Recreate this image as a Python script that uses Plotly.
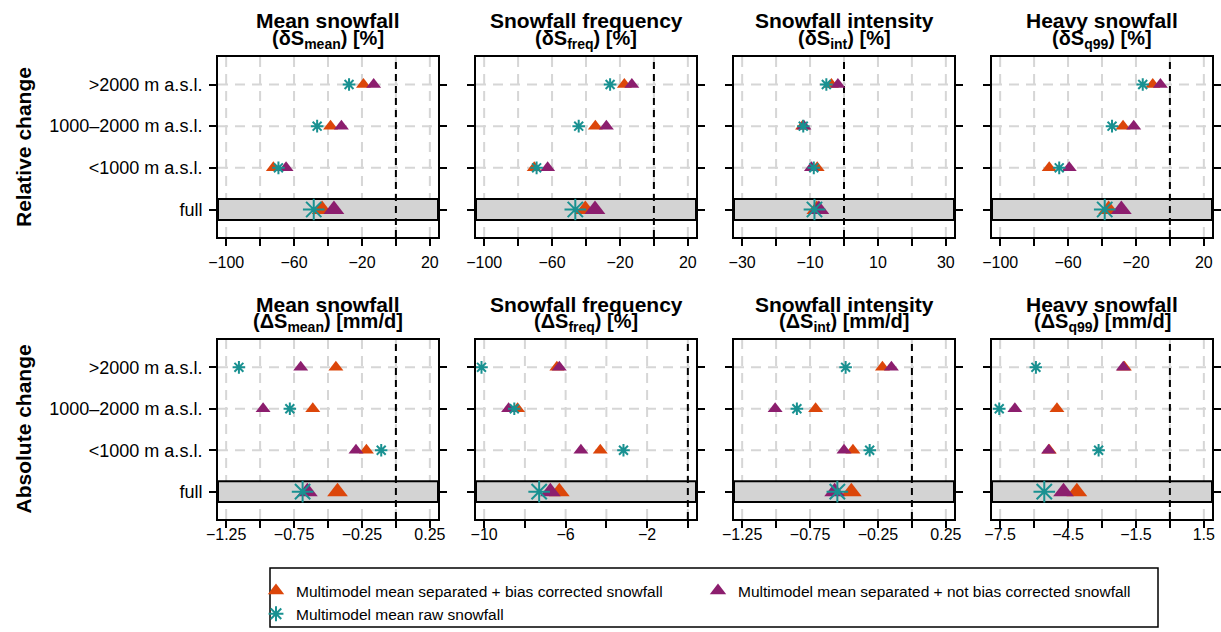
import plotly.graph_objects as go

W, H = 1221, 632

# ---------------- data ----------------
categories = ["full", "<1000 m a.s.l.", "1000–2000 m a.s.l.", ">2000 m a.s.l."]

series_names = [
    "Multimodel mean separated + bias corrected snowfall",
    "Multimodel mean separated + not bias corrected snowfall",
    "Multimodel mean raw snowfall",
]

# relative change [%]  (order follows `categories`)
bc_rel_mean = [-43.5, -72.2, -38.5, -19.1]
nbc_rel_mean = [-36.5, -64.7, -32.1, -13.1]
raw_rel_mean = [-48.4, -69.2, -46.4, -27.6]

bc_rel_freq = [-40.4, -70.5, -34.5, -17.4]
nbc_rel_freq = [-34.7, -62.6, -28.0, -13.0]
raw_rel_freq = [-46.3, -69.1, -44.3, -25.8]

bc_rel_int = [-8.0, -7.9, -12.2, -3.7]
nbc_rel_int = [-7.4, -9.6, -11.8, -1.8]
raw_rel_int = [-8.7, -8.9, -12.0, -5.2]

bc_rel_q99 = [-36.1, -71.1, -27.6, -10.1]
nbc_rel_q99 = [-28.6, -59.3, -21.3, -5.6]
raw_rel_q99 = [-38.4, -65.2, -34.1, -16.0]

# absolute change
bc_abs_mean = [-0.430, -0.217, -0.612, -0.442]
nbc_abs_mean = [-0.652, -0.294, -0.978, -0.701]
raw_abs_mean = [-0.687, -0.108, -0.781, -1.156]

bc_abs_freq = [-6.31, -4.30, -8.36, -6.43]
nbc_abs_freq = [-6.75, -5.25, -8.80, -6.31]
raw_abs_freq = [-7.30, -3.16, -8.52, -10.13]

bc_abs_int = [-0.446, -0.434, -0.709, -0.217]
nbc_abs_int = [-0.569, -0.500, -1.007, -0.151]
raw_abs_int = [-0.549, -0.311, -0.847, -0.488]

bc_abs_q99 = [-4.11, -5.33, -4.99, -2.01]
nbc_abs_q99 = [-4.70, -5.36, -6.85, -2.06]
raw_abs_q99 = [-5.55, -3.15, -7.54, -5.92]

panel_titles = ["Mean snowfall", "Snowfall frequency", "Snowfall intensity", "Heavy snowfall"]
panel_subtitles_rel = [
    "(δS<sub>mean</sub>) [%]", "(δS<sub>freq</sub>) [%]",
    "(δS<sub>int</sub>) [%]", "(δS<sub>q99</sub>) [%]",
]
panel_subtitles_abs = [
    "(ΔS<sub>mean</sub>) [mm/d]", "(ΔS<sub>freq</sub>) [%]",
    "(ΔS<sub>int</sub>) [mm/d]", "(ΔS<sub>q99</sub>) [mm/d]",
]
row_labels = ["Relative change", "Absolute change"]

# axis limits, all tick/grid positions, labelled ticks
lim_rel = [-100, 20]
ticks_rel = [-100, -80, -60, -40, -20, 0, 20]
labels_rel = [-100, -60, -20, 20]
lim_rel_int = [-30, 30]
ticks_rel_int = [-30, -20, -10, 0, 10, 20, 30]
labels_rel_int = [-30, -10, 10, 30]
lim_abs_mm = [-1.25, 0.25]
ticks_abs_mm = [-1.25, -1.0, -0.75, -0.5, -0.25, 0, 0.25]
labels_abs_mm = [-1.25, -0.75, -0.25, 0.25]
lim_abs_freq = [-10, 0]
ticks_abs_freq = [-10, -8, -6, -4, -2, 0]
labels_abs_freq = [-10, -6, -2]
lim_abs_q99 = [-7.5, 1.5]
ticks_abs_q99 = [-7.5, -6, -4.5, -3, -1.5, 0, 1.5]
labels_abs_q99 = [-7.5, -4.5, -1.5, 1.5]

panels = [
    (bc_rel_mean, nbc_rel_mean, raw_rel_mean, lim_rel, ticks_rel, labels_rel),
    (bc_rel_freq, nbc_rel_freq, raw_rel_freq, lim_rel, ticks_rel, labels_rel),
    (bc_rel_int, nbc_rel_int, raw_rel_int, lim_rel_int, ticks_rel_int, labels_rel_int),
    (bc_rel_q99, nbc_rel_q99, raw_rel_q99, lim_rel, ticks_rel, labels_rel),
    (bc_abs_mean, nbc_abs_mean, raw_abs_mean, lim_abs_mm, ticks_abs_mm, labels_abs_mm),
    (bc_abs_freq, nbc_abs_freq, raw_abs_freq, lim_abs_freq, ticks_abs_freq, labels_abs_freq),
    (bc_abs_int, nbc_abs_int, raw_abs_int, lim_abs_mm, ticks_abs_mm, labels_abs_mm),
    (bc_abs_q99, nbc_abs_q99, raw_abs_q99, lim_abs_q99, ticks_abs_q99, labels_abs_q99),
]

# ---------------- style ----------------
FONT = "Liberation Sans, Arial, sans-serif"
C_BC = "#DC460A"
C_NBC = "#8C1E6E"
C_RAW = "#199191"
GRID = "#D6D6D6"
GRID_DASH = "10px,7px"

col_px = [(218, 438), (476, 696), (734, 954), (992, 1212)]
row_px = [(57, 237), (340, 519)]


def px_x(v):
    return v / W


def px_y(v):
    return 1 - v / H


tri_sizes = [18 if c == "full" else 13 for c in categories]
star_sizes = [18 if c == "full" else 10.5 for c in categories]

fig = go.Figure()
layout = dict(
    width=W, height=H, autosize=False,
    margin=dict(l=0, r=0, t=0, b=0, pad=0, autoexpand=False),
    paper_bgcolor="white", plot_bgcolor="rgba(0,0,0,0)",
    font=dict(family=FONT, color="black"),
    showlegend=True,
)
shapes = []
annotations = []

for i, (bc, nbc, raw, lim, tv, lv) in enumerate(panels):
    n = i + 1
    suffix = "" if n == 1 else str(n)
    r, c = divmod(i, 4)
    xa, ya = f"x{suffix}", f"y{suffix}"
    span = lim[1] - lim[0]
    x0, x1 = col_px[c]
    yt, yb = row_px[r]
    layout[f"xaxis{suffix}"] = dict(
        domain=[px_x(x0), px_x(x1)], anchor=ya,
        range=[lim[0] - 0.04 * span, lim[1] + 0.04 * span],
        tickmode="array", tickvals=lv,
        ticks="outside", ticklen=7, tickwidth=2, tickcolor="black",
        minor=dict(tickmode="array", tickvals=tv, ticks="outside", ticklen=7,
                   tickwidth=2, tickcolor="black", showgrid=False),
        showline=True, linewidth=2, linecolor="black", mirror=True,
        showgrid=False, zeroline=False,
        tickfont=dict(size=16, family=FONT),
        ticklabelstandoff=(3 if r == 0 else -7), fixedrange=True,
    )
    layout[f"yaxis{suffix}"] = dict(
        domain=[px_y(yb), px_y(yt)], anchor=xa,
        type="category", categoryorder="array", categoryarray=categories,
        range=[-0.66, 3.66],
        ticks="outside", ticklen=7, tickwidth=2, tickcolor="black",
        showline=True, linewidth=2, linecolor="black", mirror="ticks",
        showgrid=False, zeroline=False, showticklabels=(c == 0),
        tickfont=dict(size=18, family=FONT), ticklabelstandoff=3,
        fixedrange=True,
    )
    # dashed grey grid
    for v in tv:
        shapes.append(dict(
            type="line", xref=xa, yref=f"{ya} domain", x0=v, x1=v, y0=0, y1=1,
            line=dict(color=GRID, width=2, dash=GRID_DASH), layer="below",
        ))
    for k in range(1, len(categories)):
        shapes.append(dict(
            type="line", xref=f"{xa} domain", yref=ya, x0=0, x1=1, y0=k, y1=k,
            line=dict(color=GRID, width=2, dash=GRID_DASH), layer="below",
        ))
    # grey band behind the "full" row
    shapes.append(dict(
        type="rect", xref=f"{xa} domain", yref=ya, x0=0, x1=1, y0=-0.25, y1=0.25,
        fillcolor="#D3D3D3", line=dict(color="black", width=2), layer="below",
    ))
    # zero reference line
    shapes.append(dict(
        type="line", xref=xa, yref=f"{ya} domain", x0=0, x1=0, y0=0, y1=1,
        line=dict(color="black", width=2, dash="7px,5px"), layer="below",
    ))

    fig.add_trace(go.Scatter(
        x=bc, y=categories, mode="markers", xaxis=xa, yaxis=ya,
        name=series_names[0], legendgroup="bc", showlegend=(i == 0),
        marker=dict(symbol="triangle-up", size=tri_sizes, color=C_BC, opacity=1,
                    line=dict(width=0)),
        cliponaxis=False,
    ))
    fig.add_trace(go.Scatter(
        x=nbc, y=categories, mode="markers", xaxis=xa, yaxis=ya,
        name=series_names[1], legendgroup="nbc", showlegend=(i == 0),
        marker=dict(symbol="triangle-up", size=tri_sizes, color=C_NBC, opacity=1,
                    line=dict(width=0)),
        cliponaxis=False,
    ))
    fig.add_trace(go.Scatter(
        x=raw, y=categories, mode="markers", xaxis=xa, yaxis=ya,
        name=series_names[2], legendgroup="raw", showlegend=(i == 0),
        marker=dict(symbol="asterisk-open", size=star_sizes, color=C_RAW, opacity=1,
                    line=dict(color=C_RAW, width=2)),
        cliponaxis=False,
    ))

    # titles
    subs = panel_subtitles_rel if r == 0 else panel_subtitles_abs
    t1 = yt - 36
    t2 = yt - 17.5
    xc = px_x((x0 + x1) / 2)
    annotations.append(dict(
        text=f"<b>{panel_titles[c]}</b>", x=xc, y=px_y(t1), xref="paper", yref="paper",
        xanchor="center", yanchor="middle", showarrow=False,
        font=dict(size=21, family=FONT),
    ))
    annotations.append(dict(
        text=f"<b>{subs[c]}</b>", x=xc, y=px_y(t2), xref="paper", yref="paper",
        xanchor="center", yanchor="middle", showarrow=False,
        font=dict(size=20, family=FONT),
    ))

for r, lab in enumerate(row_labels):
    yt, yb = row_px[r]
    annotations.append(dict(
        text=f"<b>{lab}</b>", x=px_x(23), y=px_y((yt + yb) / 2), xref="paper", yref="paper",
        xanchor="center", yanchor="middle", textangle=-90, showarrow=False,
        font=dict(size=21, family=FONT),
    ))

# legend frame
shapes.append(dict(
    type="rect", xref="paper", yref="paper",
    x0=px_x(270), x1=px_x(1158), y0=px_y(627), y1=px_y(568),
    line=dict(color="black", width=1.5), fillcolor="rgba(0,0,0,0)", layer="above",
))

layout["shapes"] = shapes
layout["annotations"] = annotations
layout["legend"] = dict(
    orientation="h", xref="container", yref="container",
    x=px_x(256), y=px_y(574), xanchor="left", yanchor="top",
    bgcolor="rgba(0,0,0,0)", borderwidth=0, entrywidth=397, entrywidthmode="pixels",
    font=dict(size=15.5, family=FONT), tracegroupgap=0, traceorder="normal",
)
fig.update_layout(**layout)

fig.write_html(
    "out.html",
    config={"responsive": False, "displayModeBar": False},
    post_script="document.body.style.margin='0';document.body.style.overflow='hidden';",
)
